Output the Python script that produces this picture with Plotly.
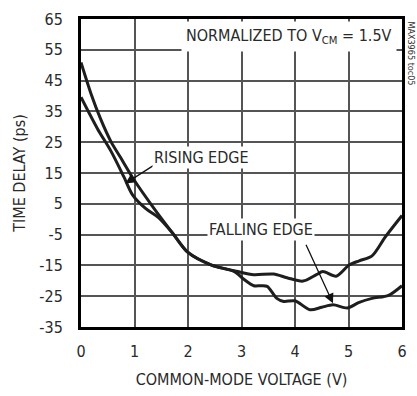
import plotly.graph_objects as go

# Curve starting higher (~51 ps)
x_a = [0.0, 0.19, 0.37, 0.56, 0.74, 0.99, 1.36, 1.72, 2.0, 2.44, 2.87, 3.05, 3.23, 3.36, 3.48, 3.66, 3.79, 4.0, 4.28, 4.5, 4.71, 4.98, 5.2, 5.44, 5.75, 6.0]
y_a = [50.9, 40.6, 32.4, 25.2, 20.0, 12.8, 3.6, -4.7, -10.8, -14.9, -17.0, -19.6, -21.6, -21.6, -21.8, -25.7, -26.7, -26.5, -29.4, -28.6, -27.8, -28.8, -27.0, -25.7, -24.7, -21.6]

# Curve starting lower (~40 ps)
x_b = [0.0, 0.31, 0.56, 0.8, 0.96, 1.2, 1.45, 1.72, 2.0, 2.44, 2.93, 3.23, 3.6, 3.85, 4.15, 4.4, 4.52, 4.77, 5.01, 5.2, 5.44, 5.69, 6.0]
y_b = [39.6, 29.3, 22.1, 13.8, 8.0, 3.6, 0.5, -4.7, -10.8, -14.9, -17.0, -18.0, -17.8, -19.0, -20.1, -18.0, -17.0, -18.5, -14.9, -13.5, -11.9, -5.7, 1.2]

x_ticks = [0, 1, 2, 3, 4, 5, 6]
y_ticks = [-35, -25, -15, -5, 5, 15, 25, 35, 45, 55, 65]

FONT = "DejaVu Sans Condensed, Liberation Sans Narrow, Arial Narrow, sans-serif"
TXT = "#2a2a2a"
LINE = "#1e1e1e"
GRID = "#555555"
FS = 16

fig = go.Figure()
fig.add_trace(go.Scatter(x=x_a, y=y_a, mode="lines",
                         line=dict(color=LINE, width=3, shape="spline", smoothing=0.8),
                         showlegend=False, hoverinfo="skip"))
fig.add_trace(go.Scatter(x=x_b, y=y_b, mode="lines",
                         line=dict(color=LINE, width=3, shape="spline", smoothing=0.8),
                         showlegend=False, hoverinfo="skip"))

fig.update_xaxes(range=[x_ticks[0], x_ticks[-1]], tickmode="array", tickvals=x_ticks,
                 ticktext=[str(v) for v in x_ticks],
                 showgrid=True, gridcolor=GRID, gridwidth=1.5,
                 showline=True, linecolor="#000", linewidth=3, mirror=True,
                 zeroline=False, ticklabelstandoff=8,
                 tickfont=dict(family=FONT, size=FS, color=TXT),
                 title=dict(text="COMMON-MODE VOLTAGE (V)", font=dict(family=FONT, size=FS, color=TXT), standoff=14))
fig.update_yaxes(range=[y_ticks[0], y_ticks[-1]], tickmode="array", tickvals=y_ticks,
                 ticktext=[str(v) for v in y_ticks],
                 showgrid=True, gridcolor=GRID, gridwidth=1.5,
                 showline=True, linecolor="#000", linewidth=3, mirror=True,
                 zeroline=False, ticklabelstandoff=12,
                 tickfont=dict(family=FONT, size=FS, color=TXT),
                 title=dict(text="TIME DELAY (ps)", font=dict(family=FONT, size=FS, color=TXT), standoff=10))

annotations = [
    dict(x=0.83, y=11.6, ax=1.45, ay=18.5, xref="x", yref="y", axref="x", ayref="y",
         showarrow=True, arrowhead=2, arrowsize=1.5, arrowwidth=1.3, arrowcolor="#111", text=" "),
    dict(x=2.26, y=20.0, xref="x", yref="y", text="RISING EDGE", showarrow=False,
         bgcolor="white", font=dict(family=FONT, size=FS, color=TXT), borderpad=1),
    dict(x=4.71, y=-27.3, ax=4.15, ay=-6.2, xref="x", yref="y", axref="x", ayref="y",
         showarrow=True, arrowhead=2, arrowsize=1.5, arrowwidth=1.3, arrowcolor="#111", text=" "),
    dict(x=3.36, y=-3.2, xref="x", yref="y", text="FALLING EDGE", showarrow=False,
         bgcolor="white", font=dict(family=FONT, size=FS, color=TXT), borderpad=1),
    dict(x=0.985, y=0.993, xref="paper", yref="paper", xanchor="right", yanchor="top",
         text="NORMALIZED TO V<sub>CM</sub> = 1.5V", showarrow=False, bgcolor="white",
         font=dict(family=FONT, size=FS, color=TXT), borderpad=4),
    dict(x=1.005, y=1.0, xref="paper", yref="paper", xanchor="left", yanchor="top",
         text="MAX3965 toc05", textangle=90, showarrow=False,
         font=dict(family=FONT, size=9, color="#333")),
]

fig.update_layout(width=417, height=396,
                  margin=dict(l=81, r=10, t=11, b=61),
                  paper_bgcolor="white", plot_bgcolor="white",
                  annotations=annotations)

fig.write_html("out.html")
